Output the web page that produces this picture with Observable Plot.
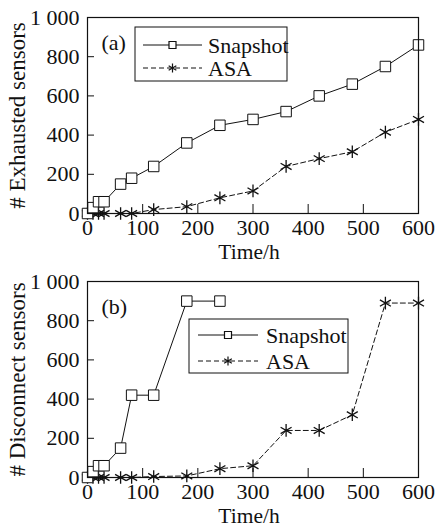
<!DOCTYPE html>
<html><head><meta charset="utf-8">
<script src="https://cdn.jsdelivr.net/npm/d3@7"></script>
<script src="https://cdn.jsdelivr.net/npm/@observablehq/plot@0.6"></script>
<style>
body{margin:0;background:#fff}
#chart>div,#chart>svg{display:block}
</style>
</head><body><div id="chart"></div>
<script>
// ---- data ----
const seriesNames = ["Snapshot", "ASA"];
const xTicks = [0, 100, 200, 300, 400, 500, 600];
const yTicks = [0, 200, 400, 600, 800, 1000];

// (a) Exhausted sensors
const timesA = [0, 10, 20, 30, 60, 80, 120, 180, 240, 300, 360, 420, 480, 540, 600];
const snapshotA = [0, 30, 60, 60, 150, 180, 240, 360, 450, 480, 520, 600, 660, 750, 860];
const asaA = [0, 0, 0, 0, 0, 0, 20, 35, 80, 115, 240, 280, 315, 415, 480];

// (b) Disconnect sensors
const timesBSnap = [0, 10, 20, 30, 60, 80, 120, 180, 240];
const snapshotB = [0, 30, 60, 60, 150, 420, 420, 900, 900];
const timesBAsa = [0, 10, 20, 30, 60, 80, 120, 180, 240, 300, 360, 420, 480, 540, 600];
const asaB = [0, 0, 0, 0, 0, 0, 5, 8, 45, 60, 240, 240, 320, 890, 890];

const panels = [
  {tag: "(a)", ylabel: "# Exhausted sensors", snapT: timesA, snapV: snapshotA, asaT: timesA, asaV: asaA,
   legend: {x: 135, y: 27, w: 152, h: 54, lineX1: 143, lineX2: 202, textX: 208, rows: [45, 68]}},
  {tag: "(b)", ylabel: "# Disconnect sensors", snapT: timesBSnap, snapV: snapshotB, asaT: timesBAsa, asaV: asaB,
   legend: {x: 189, y: 55, w: 159, h: 54, lineX1: 198, lineX2: 258, textX: 266, rows: [71, 97]}}
];

const W = 436, H = 264, mL = 87, mR = 18, mT = 17, mB = 51;
const plotH = H - mT - mB, plotW = W - mL - mR;
const font = "'Liberation Serif', 'Times New Roman', serif";
const ink = "#111";
const sqR = Math.sqrt(110 / Math.PI);
const astR = 6;

function fmtY(d) { return d === 1000 ? "1 000" : String(d); }

const root = document.getElementById("chart");
for (const p of panels) {
  const snap = p.snapT.map((t, i) => ({t, v: p.snapV[i]}));
  const asa = p.asaT.map((t, i) => ({t, v: p.asaV[i]}));
  const chart = Plot.plot({
    width: W, height: H,
    marginLeft: mL, marginRight: mR, marginTop: mT, marginBottom: mB,
    style: {fontFamily: font, fontSize: "22px", color: ink, background: "white", overflow: "visible"},
    x: {domain: [0, 600]},
    y: {domain: [0, 1000]},
    marks: [
      Plot.ruleX(xTicks.slice(1, -1), {stroke: ink, insetTop: plotH - 9}),
      Plot.ruleY(yTicks.slice(1, -1), {stroke: ink, insetRight: plotW - 7}),
      Plot.axisX(xTicks, {tickSize: 0, tickPadding: 6, fontSize: 22, label: null}),
      Plot.axisY(yTicks, {tickSize: 0, tickPadding: 8, fontSize: 22, tickFormat: fmtY, label: null}),
      Plot.text(["Time/h"], {frameAnchor: "bottom", dx: -4, dy: 39, lineAnchor: "middle", textAnchor: "middle", fontSize: 21.5, fill: ink}),
      Plot.text([p.ylabel], {frameAnchor: "left", dx: -70, rotate: -90, lineAnchor: "middle", textAnchor: "middle", fontSize: 23, fill: ink}),
      Plot.line(asa, {x: "t", y: "v", stroke: ink, strokeWidth: 1, strokeDasharray: "5,3"}),
      Plot.dot(asa, {x: "t", y: "v", symbol: "asterisk", r: astR, stroke: ink, strokeWidth: 1.3}),
      Plot.line(snap, {x: "t", y: "v", stroke: ink, strokeWidth: 1}),
      Plot.dot(snap, {x: "t", y: "v", symbol: "square", r: sqR, stroke: ink, fill: "white", strokeWidth: 1}),
      Plot.text([p.tag], {frameAnchor: "top-left", dx: 14, dy: 25, lineAnchor: "middle", fontSize: 22, fill: ink, textAnchor: "start"}),
      Plot.frame({stroke: ink, strokeWidth: 1.2})
    ]
  });
  // legend
  const svg = d3.select(chart.tagName.toLowerCase() === "svg" ? chart : chart.querySelector("svg"));
  const L = p.legend;
  const g = svg.append("g").attr("font-family", font).attr("font-size", 22).attr("fill", ink).attr("text-anchor", "start");
  g.append("rect").attr("x", L.x).attr("y", L.y).attr("width", L.w).attr("height", L.h)
    .attr("fill", "white").attr("stroke", ink).attr("stroke-width", 1);
  const mx = (L.lineX1 + L.lineX2) / 2;
  seriesNames.forEach((name, i) => {
    const y = L.rows[i];
    g.append("line").attr("x1", L.lineX1).attr("x2", L.lineX2).attr("y1", y).attr("y2", y)
      .attr("stroke", ink).attr("stroke-width", 1).attr("stroke-dasharray", i === 1 ? "5,3" : null);
    const sym = i === 0 ? d3.symbolSquare : d3.symbolAsterisk;
    const size = i === 0 ? 49 : 55;
    g.append("path").attr("d", d3.symbol(sym, size)()).attr("transform", `translate(${mx},${y})`)
      .attr("stroke", ink).attr("fill", i === 0 ? "white" : "none").attr("stroke-width", 1.2);
    g.append("text").attr("x", L.textX).attr("y", y).attr("dy", "0.35em").attr("text-anchor", "start").text(name);
  });
  root.appendChild(chart);
}
</script>
</body></html>
